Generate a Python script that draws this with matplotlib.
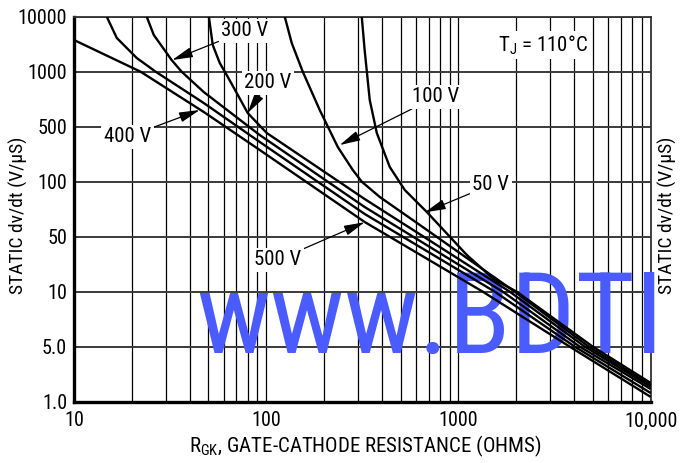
import matplotlib
matplotlib.use('Agg')
import matplotlib.pyplot as plt
from matplotlib import font_manager
import numpy as np

# pick a condensed sans close to the datasheet font
have = set(f.name for f in font_manager.fontManager.ttflist)
wanted = ['Liberation Sans Narrow', 'Arial Narrow', 'Nimbus Sans Narrow', 'Roboto Condensed',
          'Archivo Narrow', 'PT Sans Narrow', 'IBM Plex Sans Condensed', 'Fira Sans Condensed',
          'Liberation Sans']
narrow = [n for n in wanted if n in have][0]
plt.rcParams['font.family'] = [narrow, 'DejaVu Sans']
plt.rcParams['mathtext.fontset'] = 'custom'
plt.rcParams['mathtext.rm'] = narrow

# datasheet y axis: labels evenly spaced (not a true log axis)
ytick_vals = [1, 5, 10, 50, 100, 500, 1000, 10000]
ytick_labels = ['1.0', '5.0', '10', '50', '100', '500', '1000', '10000']
xtick_vals = [10, 100, 1000, 10000]
xtick_labels = ['10', '100', '1000', '10,000']

# R_GK (ohms) vs static dv/dt (V/us)
r_500v = [10, 22.2, 47.3, 92.5, 325, 1338, 3794, 10000]
dv_500v = [3770, 1000, 602, 253, 60.2, 10, 5.0, 1.15]

r_400v = [14.8, 16.7, 21.2, 26.6, 47.3, 92.5, 325, 1545, 4030, 10000]
dv_400v = [10000, 4100, 1775, 1000, 674, 320, 66.6, 10, 5.0, 1.29]

r_300v = [23.9, 26.0, 32.2, 36.3, 47.3, 92.5, 325, 1700, 4276, 10000]
dv_300v = [10000, 4650, 1630, 1000, 774, 392, 72.7, 10, 5.0, 1.45]

r_200v = [50.3, 52.7, 57.3, 62.3, 70.2, 80.1, 100.6, 325, 1849, 4540, 10000]
dv_200v = [10000, 3055, 1440, 959, 765, 594, 416, 80.4, 10, 5.0, 1.55]

r_100v = [124.8, 135.7, 154.9, 189.8, 235.6, 281.9, 314, 389.5, 629, 1963, 4764, 10000]
dv_100v = [10000, 3325, 1000, 617, 276, 141, 100, 82.5, 58, 10, 5.0, 1.63]

r_50v = [314, 325, 345.5, 376, 439, 526, 684, 1105, 1545, 2011, 5000, 10000]
dv_50v = [10000, 2485, 700, 416, 154, 90, 68.3, 29.3, 14.1, 10, 5.0, 1.73]

ylog = np.log10(ytick_vals)
ypos = np.arange(len(ytick_vals), dtype=float)


def fwd(v):
    v = np.clip(np.asarray(v, dtype=float), 1e-6, None)
    return np.interp(np.log10(v), ylog, ypos)


def inv(p):
    return 10 ** np.interp(np.asarray(p, dtype=float), ypos, ylog)


fig = plt.figure(figsize=(6.8, 4.63), dpi=100)
ax = fig.add_axes([74 / 680, 1 - 401.7 / 463, (650.7 - 74) / 680, (401.7 - 16.7) / 463])
ax.set_xscale('log')
ax.set_yscale('function', functions=(fwd, inv))
ax.set_xlim(10, 10000)
ax.set_ylim(1, 10000)

ax.set_yticks(ytick_vals)
ax.set_yticklabels(ytick_labels)
ax.yaxis.set_minor_locator(matplotlib.ticker.NullLocator())
ax.set_xticks(xtick_vals)
ax.set_xticklabels(xtick_labels)
minors = [m * d for d in (10, 100, 1000) for m in range(2, 10)]
ax.set_xticks(minors, minor=True)
ax.tick_params(axis='both', which='both', length=0, labelsize=14.5)
ax.tick_params(axis='x', pad=7)
ax.tick_params(axis='y', pad=5)

ax.grid(True, axis='y', which='major', color='#3a3a3a', lw=1.4, zorder=1)
ax.grid(True, axis='x', which='both', color='black', lw=0.9, zorder=1)
ax.set_axisbelow(True)
for side in ['left', 'bottom']:
    ax.spines[side].set_linewidth(2.4)
for side in ['top', 'right']:
    ax.spines[side].set_linewidth(1.3)
    ax.spines[side].set_color('#333333')

curves = [(r_500v, dv_500v), (r_400v, dv_400v), (r_300v, dv_300v),
          (r_200v, dv_200v), (r_100v, dv_100v), (r_50v, dv_50v)]
for r, dv in curves:
    ax.plot(r, dv, color='black', lw=1.7, zorder=4, solid_capstyle='butt')

box = dict(boxstyle='square,pad=0.12', fc='white', ec='none')
arrow = dict(arrowstyle='-|>,head_length=0.9,head_width=0.22', color='black',
             lw=0.9, shrinkA=0, shrinkB=0, mutation_scale=14)
labels = [('300 V', (32.4, 1630), (77.3, 5500)),
          ('200 V', (80, 594), (101.8, 868)),
          ('100 V', (241, 292), (762, 727)),
          ('50 V', (670, 68), (1472, 96)),
          ('400 V', (45.1, 617), (19.0, 370)),
          ('500 V', (325, 60), (114.8, 25.3))]
for txt, tip, pos in labels:
    ax.annotate(txt, xy=tip, xytext=pos, ha='center', va='center', fontsize=15,
                bbox=box, arrowprops=arrow, zorder=6)

ax.text(2745, 3055, r'T$_{\mathrm{J}}$ = 110°C', ha='center', va='center',
        fontsize=15, bbox=box, zorder=6)

fig.text(18 / 680, 1 - 215 / 463, 'STATIC dv/dt (V/μS)', rotation=90,
         ha='center', va='center', fontsize=14)
fig.text(667 / 680, 1 - 215 / 463, 'STATIC dv/dt (V/μS)', rotation=90,
         ha='center', va='center', fontsize=14)
fig.text(365 / 680, 1 - 446 / 463, r'R$_{\mathrm{GK}}$, GATE-CATHODE RESISTANCE (OHMS)',
         ha='center', va='center', fontsize=15)

# watermark: above the grid, under the curves
ax.text(196 / 680, 1 - 353 / 463, 'www.BDTI', transform=fig.transFigure,
        ha='left', va='baseline', fontsize=82, color='#4a5cff', zorder=3,
        clip_on=False)

fig.savefig('out.png', dpi=100)
